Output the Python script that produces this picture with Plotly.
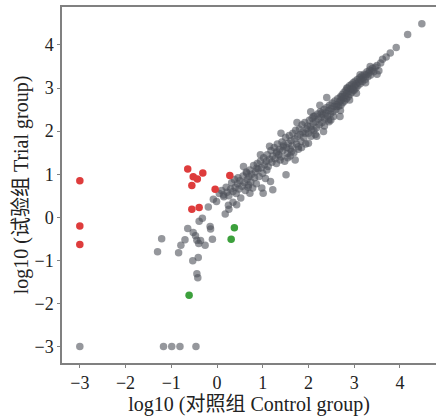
import plotly.graph_objects as go

# Gray (non-significant) points: control log10, trial log10
gray_x = [
    -3.00, -1.17, -0.99, -0.81, -0.46,
    -1.30, -1.21, -0.84, -0.79, -0.70, -0.64, -0.52, -0.47, -0.44, -0.40, -0.36, -0.39, -0.32,
    -0.19, -0.15, -0.14, -0.10, -0.26, -0.53, -0.41, -0.44, -0.42, -0.08, -0.01, 0.18, 0.14, 0.26,
    0.05, 0.10, 0.15, 0.20, 0.22, 0.26, 0.30, 0.32, 0.35, 0.38, 0.40, 0.42, 0.45, 0.46, 0.48, 0.50,
    0.52, 0.55, 0.57, 0.60, 0.62, 0.64, 0.66, 0.68, 0.70,
    0.72, 0.74, 0.76, 0.78, 0.80, 0.82, 0.84, 0.86, 0.88, 0.90, 0.92, 0.95, 0.97, 1.00, 1.02, 1.04,
    1.06, 1.08, 1.10, 1.12, 1.15, 1.18, 1.20, 1.22, 1.17, 1.22, 1.51,
    1.25, 1.27, 1.30, 1.32, 1.35, 1.37, 1.40, 1.42, 1.44, 1.46, 1.48, 1.50, 1.52, 1.54, 1.56, 1.58,
    1.60, 1.62, 1.64, 1.66, 1.68, 1.70, 1.72, 1.74, 1.76, 1.78, 1.80, 1.82, 1.84, 1.86, 1.88, 1.90,
    1.92, 1.94, 1.96, 1.98,
    2.00, 2.02, 2.04, 2.06, 2.08, 2.10, 2.12, 2.14, 2.16, 2.18, 2.20, 2.22, 2.24, 2.26, 2.28, 2.30,
    2.32, 2.34, 2.36, 2.38, 2.40, 2.42, 2.44, 2.46, 2.48, 2.50, 2.52, 2.54, 2.56, 2.58,
    2.60, 2.62, 2.64, 2.66, 2.68, 2.70, 2.71, 2.72, 2.74, 2.75, 2.76, 2.78, 2.79, 2.80, 2.82, 2.83,
    2.84, 2.86, 2.87, 2.88, 2.90, 2.91, 2.92, 2.94, 2.95, 2.96, 2.98, 3.00, 3.01, 3.02, 3.04, 3.05,
    3.07, 3.08, 3.10, 3.12, 3.13, 3.15, 3.17, 3.18, 3.20, 3.22, 3.24, 3.26, 3.28, 3.30, 3.32, 3.34,
    3.36, 3.38, 3.40, 3.43, 3.46, 3.50,
    2.45, 2.35, 2.55, 2.70, 2.90, 3.05, 3.25, 3.50, 2.15, 1.85, 1.55, 1.30, 1.60,
    3.54, 3.58, 3.62, 3.70, 3.79, 3.92, 4.17, 4.48,
    # extra scatter around the band
    0.58, 0.65, 0.69, 0.72, 0.87, 0.98, 1.01, 1.09, 1.31, 1.38, 1.45, 1.63, 1.71, 1.78, 1.93,
    2.00, 2.07, 2.11, 2.18, 2.29, 2.33, 2.44, 2.49, 2.62, 2.69, 2.73, 2.84, 2.98, 3.13, 3.35,
    1.40, 1.75, 2.05, 2.25, 2.40, 1.15, 0.95, 0.35, 0.25, 0.43,
]
gray_y = [
    -3.00, -3.00, -3.00, -3.00, -3.00,
    -0.80, -0.50, -0.82, -0.65, -0.52, -0.26, -0.35, -0.43, -0.53, -0.61, -0.54, -0.09, -0.02,
    0.24, -0.21, -0.27, -0.51, -0.65, -1.01, -0.93, -1.31, -1.40, 0.42, 0.37, 0.08, 0.52, 0.19,
    0.55, 0.62, 0.48, 0.70, 0.58, 0.50, 0.66, 0.80, 0.60, 0.88, 0.70, 0.55, 0.78, 0.92, 0.66, 0.85,
    0.45, 0.72, 0.96, 0.80, 0.62, 1.05, 0.88, 0.70, 0.95,
    1.10, 0.82, 1.00, 0.68, 1.20, 0.92, 1.05, 0.78, 1.25, 1.12, 0.95, 1.30, 1.15, 1.02, 1.38, 1.22,
    0.90, 1.30, 1.45, 1.18, 1.35, 1.55, 1.28, 1.42, 0.83, 0.64, 0.99,
    1.62, 1.36, 1.50, 1.70, 1.45, 1.58, 1.40, 1.75, 1.55, 1.68, 1.30, 1.85, 1.62, 1.48, 1.72, 1.90,
    1.58, 1.78, 1.66, 1.95, 1.50, 1.82, 2.02, 1.70, 1.88, 1.58, 2.05, 1.92, 1.76, 2.15, 1.98, 1.85,
    2.20, 1.70, 2.05, 2.12,
    1.95, 2.25, 2.10, 1.88, 2.30, 2.18, 2.02, 2.35, 2.22, 2.08, 2.40, 2.28, 2.15, 2.45, 2.32, 2.20,
    2.38, 2.50, 2.28, 2.42, 2.55, 2.35, 2.48, 2.60, 2.40, 2.52, 2.65, 2.45, 2.58, 2.70,
    2.50, 2.62, 2.75, 2.58, 2.68, 2.80, 2.60, 2.72, 2.85, 2.66, 2.76, 2.90, 2.70, 2.82, 2.95, 2.75,
    2.88, 3.00, 2.80, 2.92, 3.05, 2.85, 2.97, 3.08, 2.90, 3.00, 3.12, 2.95, 3.05, 3.16, 3.00, 3.10,
    3.20, 3.05, 3.14, 3.24, 3.10, 3.20, 3.28, 3.15, 3.24, 3.32, 3.20, 3.30, 3.38, 3.26, 3.35, 3.42,
    3.30, 3.40, 3.46, 3.38, 3.48, 3.52,
    2.22, 2.12, 2.34, 2.48, 2.72, 2.88, 3.12, 3.32, 1.92, 1.62, 1.38, 1.25, 1.42,
    3.40, 3.58, 3.67, 3.72, 3.81, 3.94, 4.24, 4.49,
    1.18, 1.03, 0.75, 0.56, 1.14, 0.68, 0.56, 1.10, 1.53, 1.33, 1.64, 1.53, 1.33, 1.64, 1.95,
    1.72, 2.03, 2.34, 1.88, 2.42, 1.99, 2.26, 2.26, 2.57, 2.34, 2.80, 3.00, 2.96, 3.31, 3.50,
    1.95, 2.20, 2.45, 2.60, 2.78, 1.65, 1.45, 0.35, 0.28, 0.29,
]

# Up-regulated (red)
red_x = [-3.00, -3.00, -3.00, -0.64, -0.52, -0.43, -0.31, -0.55, -0.04, 0.28, -0.55, -0.39]
red_y = [0.85, -0.20, -0.63, 1.12, 0.94, 0.89, 1.03, 0.74, 0.65, 0.97, 0.19, 0.23]

# Down-regulated (green)
green_x = [0.38, 0.31, -0.61]
green_y = [-0.24, -0.51, -1.81]

x_ticks = [-3, -2, -1, 0, 1, 2, 3, 4]
y_ticks = [-3, -2, -1, 0, 1, 2, 3, 4]

serif = "Liberation Serif, Noto Sans CJK SC, serif"

fig = go.Figure()
fig.add_trace(go.Scatter(x=gray_x, y=gray_y, mode="markers",
                         marker=dict(size=7.5, color="rgba(78,82,90,0.6)", line=dict(width=0))))
fig.add_trace(go.Scatter(x=red_x, y=red_y, mode="markers",
                         marker=dict(size=7.5, color="rgb(222,60,60)", line=dict(width=0))))
fig.add_trace(go.Scatter(x=green_x, y=green_y, mode="markers",
                         marker=dict(size=7.5, color="rgb(60,160,60)", line=dict(width=0))))

axis_common = dict(showgrid=False, zeroline=False, showline=True, linecolor="#808080",
                   linewidth=1.5, ticks="outside", ticklen=3, tickcolor="#808080",
                   automargin=False,
                   tickfont=dict(family=serif, size=18, color="#222"))

fig.update_layout(
    width=436, height=416,
    margin=dict(l=62, r=0, t=7, b=53, autoexpand=False),
    paper_bgcolor="white", plot_bgcolor="white",
    showlegend=False,
    xaxis=dict(range=[-3.39, 4.79], tickvals=x_ticks, mirror=True,
               title=dict(text="log10 (对照组 Control group)", standoff=1,
                          font=dict(family=serif, size=20, color="#222")),
               **axis_common),
    yaxis=dict(range=[-3.38, 4.88], tickvals=y_ticks, mirror=False,
               title=dict(text="log10 (试验组 Trial group)", standoff=0,
                          font=dict(family=serif, size=20, color="#222")),
               **axis_common),
)

fig.write_html("out.html", config={"displayModeBar": False},
               post_script="document.body.style.margin='0px';")
